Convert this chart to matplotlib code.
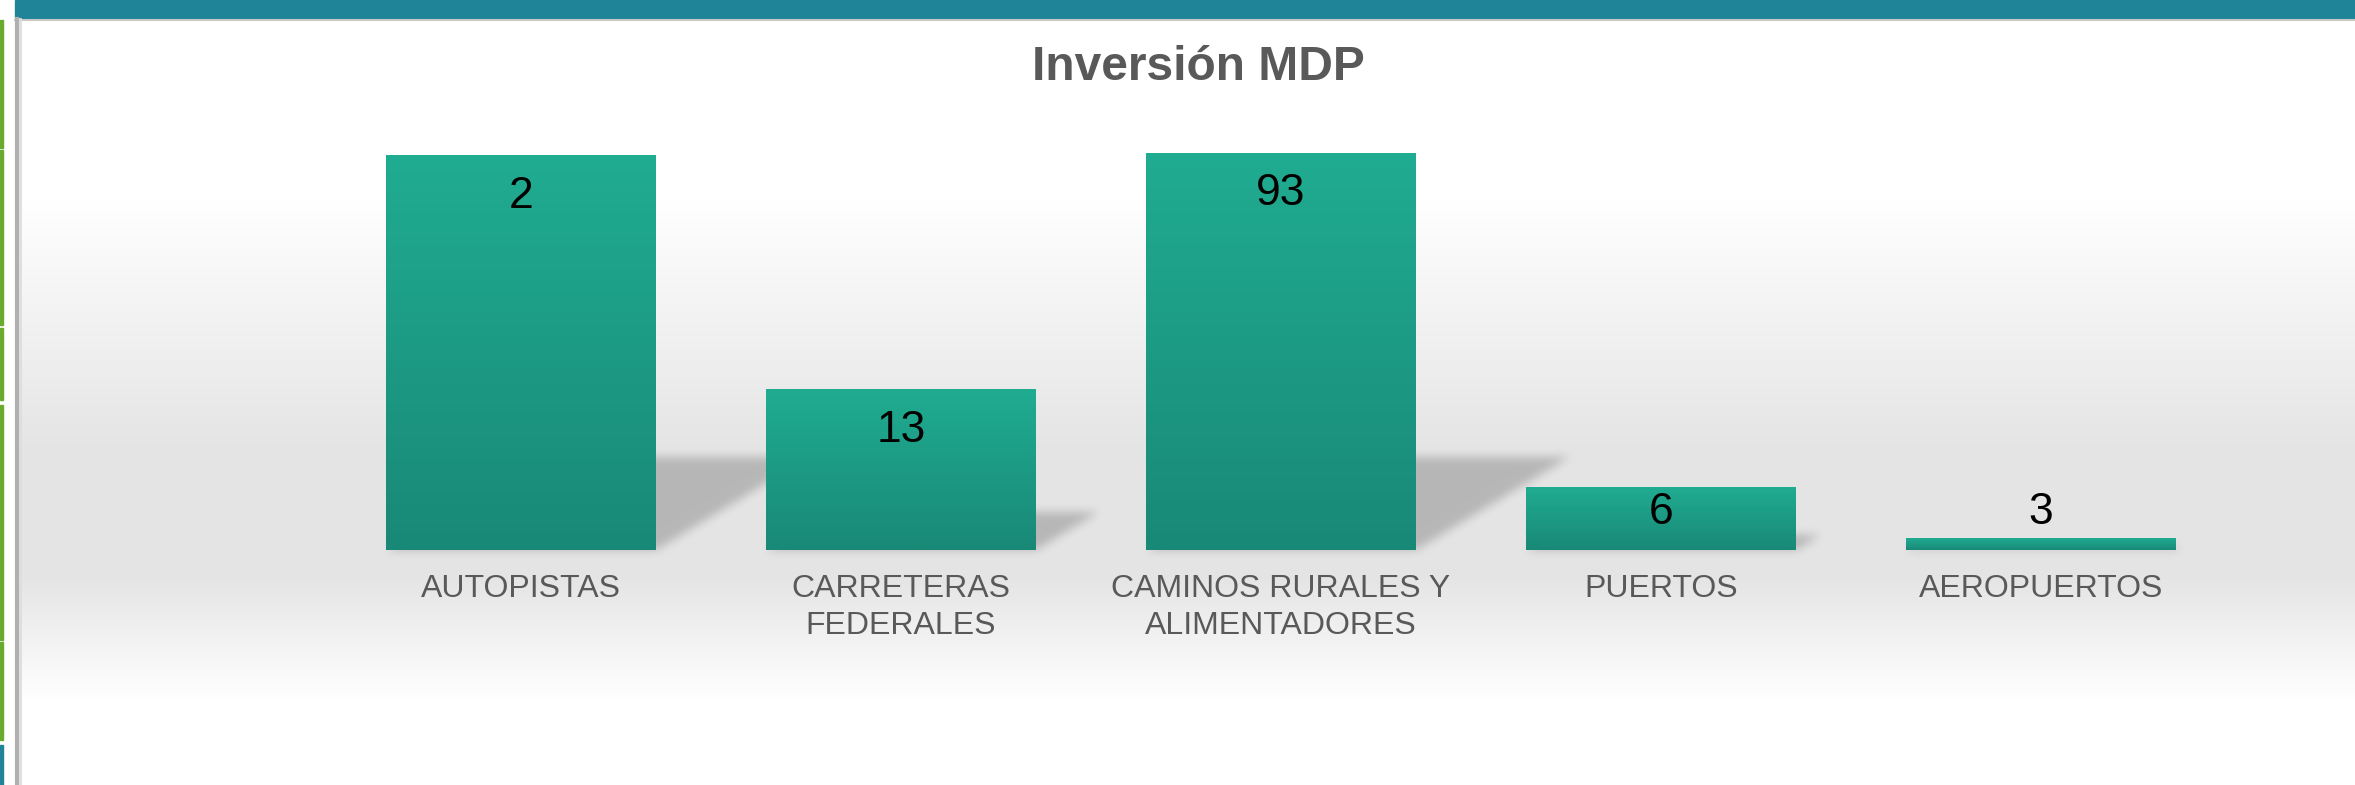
import matplotlib.pyplot as plt
import numpy as np
from matplotlib.patches import Rectangle
from matplotlib.path import Path
from matplotlib.colors import LinearSegmentedColormap

# data (bar heights do not follow the printed labels)
categories = ['AUTOPISTAS', 'CARRETERAS\nFEDERALES', 'CAMINOS RURALES Y\nALIMENTADORES',
              'PUERTOS', 'AEROPUERTOS']
bar_values = [92.5, 37.7, 93.0, 14.8, 2.8]
value_labels = ['2', '13', '93', '6', '3']
title = 'Inversión MDP'

W, H = 2355, 785
DPI = 100
plt.rcParams['font.family'] = ['Liberation Sans', 'DejaVu Sans']

fig = plt.figure(figsize=(W / DPI, H / DPI), dpi=DPI)

# background: white -> light grey -> white (pixel coordinates, y down)
bg = fig.add_axes([0, 0, 1, 1])
bg.set_xlim(0, W)
bg.set_ylim(H, 0)
bg.axis('off')
rows = np.arange(H)
shade = np.interp(rows, [0, 200, 450, 575, 700, H], [1.0, 1.0, 0.895, 0.895, 1.0, 1.0])
grad = np.dstack([shade] * 3).reshape(H, 1, 3)
bg.imshow(grad, extent=[15, W, H, 0], aspect='auto', zorder=0)
# top teal band and frame lines
bg.add_patch(Rectangle((15, 0), W - 15, 18, color='#1f8497', zorder=2))
bg.plot([15, W], [19.5, 19.5], color='#c8c8c8', lw=1.5, zorder=2)
bg.plot([17, 17], [19, H], color='#b0b0b0', lw=3, zorder=2)
bg.plot([20, 20], [19, H], color='#dedede', lw=2, zorder=2)
# green marks on the left edge
for y0, y1 in [(20, 148), (150, 325), (328, 400), (405, 640), (642, 740)]:
    bg.add_patch(Rectangle((0, y0), 3, y1 - y0, color='#6aaa2d', zorder=2))
bg.add_patch(Rectangle((0, 745), 3, 40, color='#1f8497', zorder=2))

fig.text(1198 / W, 1 - 67 / H, title, ha='center', va='center',
         fontsize=34.5, fontweight='bold', color='#595959')

# plot area
ax = fig.add_axes([331 / W, 235 / H, 1900 / W, 427 / H])
ax.set_xlim(-0.5, 4.5)
ax.set_ylim(0, 100)
ax.patch.set_alpha(0)
for s in ax.spines.values():
    s.set_visible(False)
ax.set_yticks([])

x = np.arange(len(categories))
width = 0.71
bars = ax.bar(x, bar_values, width, color='none', zorder=3)
ax.set_xlim(-0.5, 4.5)
ax.set_ylim(0, 100)

ppy = 427 / 100.0     # pixels per y unit

# soft skewed shadow behind each bar, rasterised and blurred in pixel space
mask = np.zeros((H, W))
gy, gx = np.mgrid[0:H, 0:W]
pts = np.column_stack([gx.ravel() + 0.5, gy.ravel() + 0.5])
for b in bars:
    (x0, y0), (x1, y1) = ax.transData.transform([(b.get_x(), 0),
                                                 (b.get_x() + b.get_width(), b.get_height())])
    base = H - y0
    hpx = y1 - y0
    sh = 0.235 * hpx
    skew = 1.65 * sh
    path = Path([(x0, base), (x1, base), (x1 + skew, base - sh), (x0 + skew, base - sh)])
    sel = path.contains_points(pts).reshape(H, W)
    mask[sel] = 1.0


def box_blur(a, r, axis):
    c = np.cumsum(np.pad(a, [(r + 1, r) if i == axis else (0, 0) for i in range(2)],
                         mode='edge'), axis=axis)
    n = a.shape[axis]
    hi = np.take(c, np.arange(2 * r + 1, 2 * r + 1 + n), axis=axis)
    lo = np.take(c, np.arange(0, n), axis=axis)
    return (hi - lo) / (2 * r + 1)


for _ in range(3):
    mask = box_blur(mask, 4, 0)
    mask = box_blur(mask, 4, 1)
shadow = np.zeros((H, W, 4))
shadow[..., 3] = mask * 0.2
bg.imshow(shadow, extent=[0, W, H, 0], aspect='auto', zorder=1)

# bars with a vertical gradient
cmap = LinearSegmentedColormap.from_list('teal', ['#198977', '#20ac91'])
ramp = np.linspace(0, 1, 100).reshape(-1, 1)
for b in bars:
    xl, w, h = b.get_x(), b.get_width(), b.get_height()
    im = ax.imshow(ramp, cmap=cmap, origin='lower', aspect='auto',
                   extent=[xl, xl + w, 0, h], zorder=3)
    rect = Rectangle((xl, 0), w, h, transform=ax.transData)
    im.set_clip_path(rect)
    ax.plot([xl, xl + w], [-0.2, -0.2], color='#b9cfca', lw=2, zorder=3)
ax.set_xlim(-0.5, 4.5)
ax.set_ylim(0, 100)

# value labels: inside end, kept clear of the baseline
for b, lab in zip(bars, value_labels):
    h = b.get_height()
    y = max(h - 41 / ppy, 37 / ppy)
    ax.text(b.get_x() + b.get_width() / 2, y, lab, ha='center', va='center',
            fontsize=32, color='black', zorder=5)

ax.set_xticks(x)
ax.set_xticklabels(categories, fontsize=23, color='#595959', linespacing=1.3)
ax.tick_params(axis='x', length=0, pad=17)

fig.savefig('out.png', dpi=DPI)
plt.close()
